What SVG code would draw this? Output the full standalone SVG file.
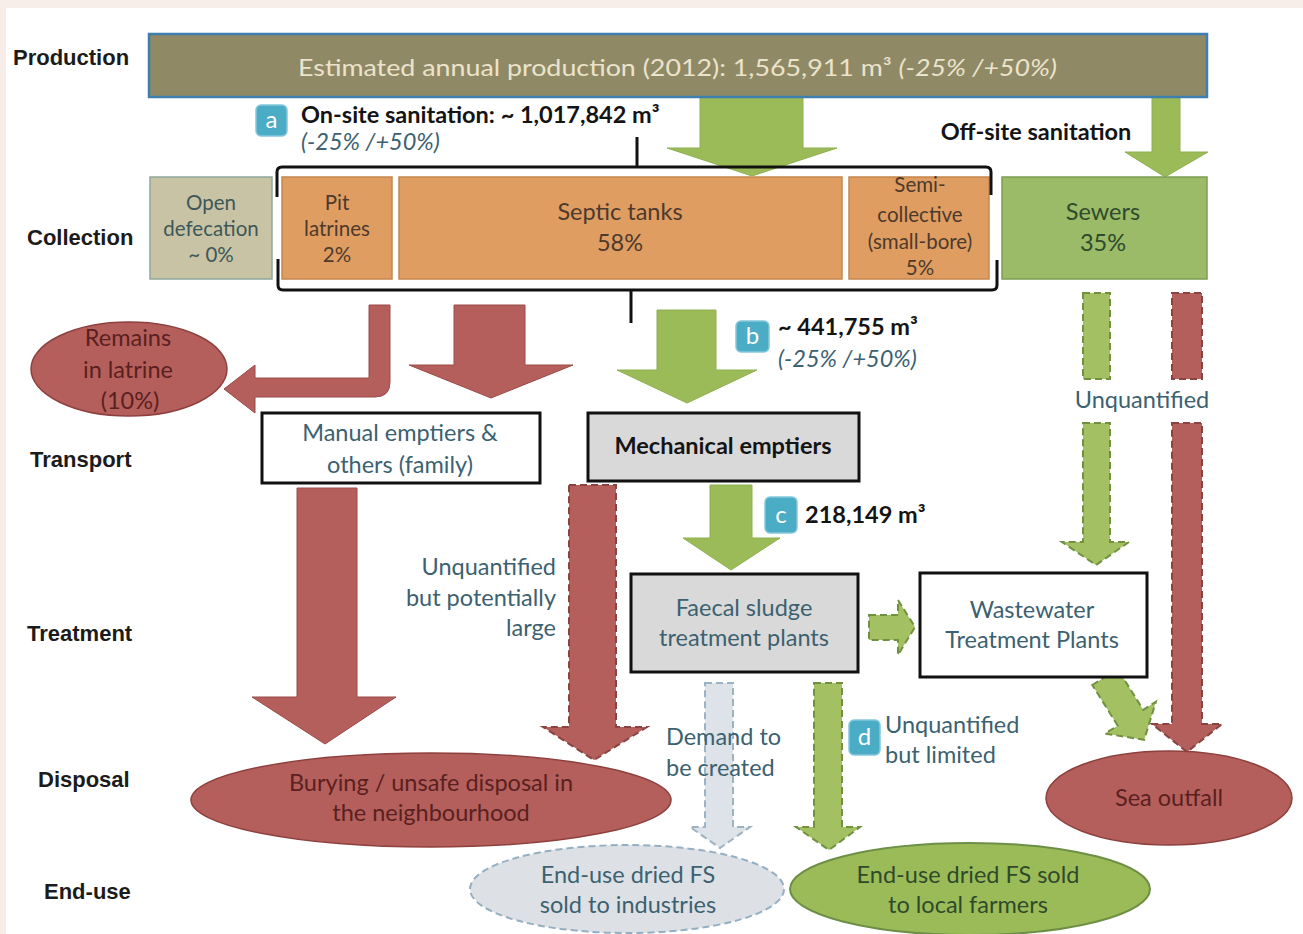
<svg xmlns="http://www.w3.org/2000/svg" width="1303" height="934" viewBox="0 0 1303 934">
  <style>
    .row { font-family: "Liberation Sans", Arial, sans-serif; font-weight: bold; font-size: 22px; fill: #1b1b1b; }
    .t { font-family: Lato, "Liberation Sans", sans-serif; font-size: 23.5px; text-anchor: middle; }
    .sm { font-size: 20.5px; }
    .l { text-anchor: start; }
    .e { text-anchor: end; }
    .teal { fill: #3c6170; }
    .red-t { fill: #5a1f1f; }
    .grn-t { fill: #2f4a2b; }
    .org-t { fill: #4d3a2c; }
    .od-t { fill: #3d5858; }
    .bold { font-weight: bold; fill: #141414; }
    .red { fill: #b45f5c; stroke: #9a4a48; stroke-width: 1; }
    .red-dash { fill: #b45f5c; stroke: #8a4341; stroke-width: 2; stroke-dasharray: 7 4; }
    .grn { fill: #9bbb59; stroke: #8fb050; stroke-width: 1; }
    .grn-dash { fill: #a3c063; stroke: #6f9140; stroke-width: 2; stroke-dasharray: 7 4; }
    .gry-dash { fill: #dde3e8; stroke: #9db2c2; stroke-width: 2; stroke-dasharray: 7 4; }
    .box { stroke: #111; stroke-width: 3; }
    .coll { stroke-width: 1.5; }
    .tag { fill: #4bacc6; stroke: #86c8dc; stroke-width: 1.5; }
    .tag-t { font-family: Lato, "Liberation Sans", sans-serif; font-size: 24px; fill: #ffffff; text-anchor: middle; }
  </style>

  <!-- page -->
  <rect x="0" y="0" width="1303" height="934" fill="#f7eee9"/>
  <rect x="6" y="8" width="1297" height="926" fill="#ffffff"/>

  <!-- row headings -->
  <g id="row-labels">
    <text class="row" x="13" y="65">Production</text>
    <text class="row" x="27" y="245">Collection</text>
    <text class="row" x="30" y="467">Transport</text>
    <text class="row" x="27" y="641">Treatment</text>
    <text class="row" x="38" y="787">Disposal</text>
    <text class="row" x="44" y="899">End-use</text>
  </g>

  <!-- connectors -->
  <g id="connectors">
    <!-- production to on-site / off-site -->
    <polygon class="grn" points="700,97 803,97 803,148 837,148 752,176 667,148 700,148"/>
    <polygon class="grn" points="1152,97 1180,97 1180,152 1208,152 1165,177 1125,152 1152,152"/>
    <!-- pit latrines: remains / manual emptiers -->
    <path class="red" d="M369,305 H390 V382 Q390,397 375,397 H255 V413 L224,389 L255,365 V378 H369 Z"/>
    <polygon class="red" points="454,305 525,305 525,365 573,365 491,398 409,365 454,365"/>
    <!-- septic to mechanical emptiers -->
    <polygon class="grn" points="657,310 716,310 716,370 757,370 687,403 617,370 657,370"/>
    <!-- mechanical emptiers to FSTP -->
    <polygon class="grn" points="710,485 752,485 752,538 780,538 731,570 683,538 710,538"/>
    <!-- manual emptiers to burying -->
    <polygon class="red" points="297,488 357,488 357,697 396,697 325,744 252,697 297,697"/>
    <!-- mechanical emptiers unquantified dumping -->
    <polygon class="red-dash" points="569,485 616,485 616,727 647,727 594,760 543,727 569,727"/>
    <!-- sewers to WWTP -->
    <rect class="grn-dash" x="1083" y="293" width="27" height="86"/>
    <polygon class="grn-dash" points="1083,423 1110,423 1110,542 1129,542 1096,565 1062,542 1083,542"/>
    <!-- sewers to sea outfall -->
    <rect class="red-dash" x="1172" y="293" width="30" height="86"/>
    <polygon class="red-dash" points="1172,423 1202,423 1202,724 1222,724 1187,752 1152,724 1172,724"/>
    <!-- FSTP to WWTP -->
    <polygon class="grn-dash" points="869,615 898,615 898,600 915,627 898,655 898,640 869,640"/>
    <!-- WWTP to sea outfall -->
    <polygon class="grn-dash" transform="translate(1105,677) rotate(-32)" points="-15,0 15,0 15,48 30,48 0,74 -30,48 -15,48"/>
    <!-- FSTP to end-uses -->
    <polygon class="gry-dash" points="705,683 733,683 733,827 750,827 720,848 690,827 705,827"/>
    <polygon class="grn-dash" points="814,683 842,683 842,827 860,827 829,850 796,827 814,827"/>
  </g>

  <!-- production -->
  <g id="production">
    <rect x="149" y="34" width="1058" height="63" fill="#8f8a65" stroke="#3f7fb0" stroke-width="2.5"/>
    <text class="t l" x="298" y="76" fill="#ece3cc" style="font-size:24px" textLength="759" lengthAdjust="spacingAndGlyphs">Estimated annual production (2012): 1,565,911 m³  <tspan font-style="italic">(-25% /+50%)</tspan></text>
  </g>

  <!-- on-site annotation -->
  <g id="label-a">
    <rect class="tag" x="256" y="105" width="31" height="31" rx="5"/>
    <text class="tag-t" x="271.5" y="128">a</text>
    <text class="t bold l" x="301" y="123">On-site sanitation: ~ 1,017,842 m³</text>
    <text class="t teal l" x="301" y="150" font-style="italic">(-25% /+50%)</text>
  </g>

  <g id="label-offsite">
    <text class="t bold" x="1036" y="140">Off-site sanitation</text>
  </g>

  <!-- collection -->
  <g id="open-defecation">
    <rect class="coll" x="150" y="177" width="122" height="102" fill="#c9c3a6" stroke="#8ea79b"/>
    <text class="t sm od-t" x="211" y="210">Open</text>
    <text class="t sm od-t" x="211" y="236">defecation</text>
    <text class="t sm od-t" x="211" y="262">~ 0%</text>
  </g>
  <g id="pit-latrines">
    <rect class="coll" x="282" y="177" width="110" height="102" fill="#df9d62" stroke="#c4864f"/>
    <text class="t sm org-t" x="337" y="210">Pit</text>
    <text class="t sm org-t" x="337" y="236">latrines</text>
    <text class="t sm org-t" x="337" y="262">2%</text>
  </g>
  <g id="septic-tanks">
    <rect class="coll" x="399" y="177" width="443" height="102" fill="#df9d62" stroke="#c4864f"/>
    <text class="t org-t" x="620" y="220">Septic tanks</text>
    <text class="t org-t" x="620" y="251">58%</text>
  </g>
  <g id="semi-collective">
    <rect class="coll" x="849" y="177" width="140" height="102" fill="#df9d62" stroke="#c4864f"/>
    <text class="t sm org-t" x="920" y="192">Semi-</text>
    <text class="t sm org-t" x="920" y="222">collective</text>
    <text class="t sm org-t" x="920" y="249">(small-bore)</text>
    <text class="t sm org-t" x="920" y="275">5%</text>
  </g>
  <g id="sewers">
    <rect class="coll" x="1002" y="177" width="205" height="102" fill="#9bbb69" stroke="#7d9c55"/>
    <text class="t grn-t" x="1103" y="220">Sewers</text>
    <text class="t grn-t" x="1103" y="251">35%</text>
  </g>

  <!-- on-site brace -->
  <g id="onsite-brace" fill="none" stroke="#111" stroke-width="3" stroke-linejoin="round">
    <path d="M277,197 V172 Q277,167 282,167 H986 Q991,167 991,172 V195"/>
    <path d="M637,137 V167"/>
    <path d="M278,259 V285 Q278,290 283,290 H992 Q997,290 997,285 V260"/>
    <path d="M631,290 V323"/>
  </g>

  <!-- transport -->
  <g id="remains-in-latrine">
    <ellipse cx="129" cy="369" rx="98" ry="47" fill="#b45f5c" stroke="#8e403e" stroke-width="1.5"/>
    <text class="t red-t" x="128" y="346">Remains</text>
    <text class="t red-t" x="128" y="378">in latrine</text>
    <text class="t red-t" x="130" y="409">(10%)</text>
  </g>
  <g id="manual-emptiers">
    <rect class="box" x="262" y="413" width="278" height="70" fill="#ffffff"/>
    <text class="t teal" x="400" y="441">Manual emptiers &amp;</text>
    <text class="t teal" x="400" y="473">others (family)</text>
  </g>
  <g id="mechanical-emptiers">
    <rect class="box" x="588" y="413" width="271" height="68" fill="#d9d9d9"/>
    <text class="t bold" x="723" y="454">Mechanical emptiers</text>
  </g>

  <g id="label-b">
    <rect class="tag" x="736" y="321" width="33" height="31" rx="5"/>
    <text class="tag-t" x="752.5" y="344">b</text>
    <text class="t bold l" x="778" y="335">~ 441,755 m³</text>
    <text class="t teal l" x="778" y="367" font-style="italic">(-25% /+50%)</text>
  </g>
  <g id="label-c">
    <rect class="tag" x="765" y="497" width="32" height="36" rx="5"/>
    <text class="tag-t" x="781" y="523">c</text>
    <text class="t bold l" x="805" y="523">218,149 m³</text>
  </g>
  <g id="label-sewer-flow">
    <text class="t teal" x="1142" y="408">Unquantified</text>
  </g>
  <g id="label-dumping">
    <text class="t teal e" x="556" y="575">Unquantified</text>
    <text class="t teal e" x="556" y="606">but potentially</text>
    <text class="t teal e" x="556" y="636">large</text>
  </g>

  <!-- treatment -->
  <g id="fstp">
    <rect class="box" x="631" y="574" width="227" height="98" fill="#d9d9d9"/>
    <text class="t teal" x="744" y="616">Faecal sludge</text>
    <text class="t teal" x="744" y="646">treatment plants</text>
  </g>
  <g id="wwtp">
    <rect class="box" x="920" y="573" width="227" height="104" fill="#ffffff"/>
    <text class="t teal" x="1032" y="618">Wastewater</text>
    <text class="t teal" x="1032" y="648">Treatment Plants</text>
  </g>

  <g id="label-demand">
    <text class="t teal l" x="666" y="745">Demand to</text>
    <text class="t teal l" x="666" y="776">be created</text>
  </g>
  <g id="label-d">
    <rect class="tag" x="849" y="720" width="31" height="35" rx="5"/>
    <text class="tag-t" x="864.5" y="745">d</text>
    <text class="t teal l" x="885" y="733">Unquantified</text>
    <text class="t teal l" x="885" y="763">but limited</text>
  </g>

  <!-- disposal -->
  <g id="burying">
    <ellipse cx="431" cy="800" rx="240" ry="47" fill="#b45f5c" stroke="#8e403e" stroke-width="1.5"/>
    <text class="t red-t" x="431" y="791">Burying / unsafe disposal in</text>
    <text class="t red-t" x="431" y="821">the neighbourhood</text>
  </g>
  <g id="sea-outfall">
    <ellipse cx="1169" cy="798" rx="123" ry="47" fill="#b45f5c" stroke="#8e403e" stroke-width="1.5"/>
    <text class="t red-t" x="1169" y="806">Sea outfall</text>
  </g>

  <!-- end-use -->
  <g id="enduse-industries">
    <ellipse cx="627" cy="889" rx="157" ry="44" fill="#dde1e5" stroke="#94aec2" stroke-width="2" stroke-dasharray="7 4"/>
    <text class="t teal" x="628" y="883">End-use dried FS</text>
    <text class="t teal" x="628" y="913">sold to industries</text>
  </g>
  <g id="enduse-farmers">
    <ellipse cx="970" cy="889" rx="180" ry="46" fill="#9bbb59" stroke="#6d8f45" stroke-width="2"/>
    <text class="t grn-t" x="968" y="883">End-use dried FS sold</text>
    <text class="t grn-t" x="968" y="913">to local farmers</text>
  </g>
</svg>
